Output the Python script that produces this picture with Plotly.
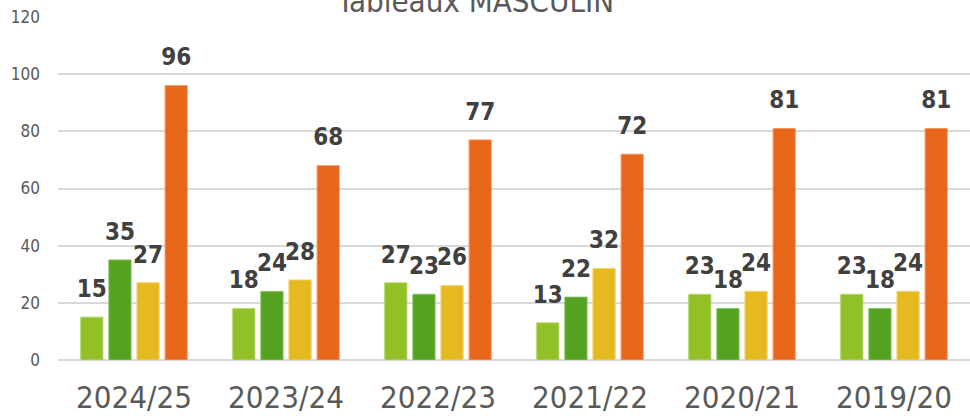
import plotly.graph_objects as go

categories = ["2024/25", "2023/24", "2022/23", "2021/22", "2020/21", "2019/20"]
serie_1 = [15, 18, 27, 13, 23, 23]
serie_2 = [35, 24, 23, 22, 18, 18]
serie_3 = [27, 28, 26, 32, 24, 24]
serie_4 = [96, 68, 77, 72, 81, 81]
y_ticks = [0, 20, 40, 60, 80, 100, 120]
title_text = "Tableaux MASCULIN"

series = [serie_1, serie_2, serie_3, serie_4]
colors = ["#92C127", "#55A122", "#E5B91F", "#E8661A"]
edges = ["#B5D86A", "#86C25E", "#F0D26A", "#F09A66"]

FONT = "DejaVu Sans Condensed, DejaVu Sans, sans-serif"


def label(v):
    # number in large bold type; a small empty second line lifts it above the bar
    return "<span style='font-size:24px'><b>%d</b></span><br> " % v


fig = go.Figure()
for vals, c, e in zip(series, colors, edges):
    fig.add_trace(go.Bar(
        x=categories, y=vals,
        marker=dict(color=c, line=dict(color=e, width=1)),
        text=[label(v) for v in vals],
        textposition="outside",
        textfont=dict(family=FONT, size=11, color="#404040"),
        constraintext="none",
        cliponaxis=False,
        showlegend=False,
        hoverinfo="x+y",
    ))

fig.update_layout(
    width=970, height=416,
    margin=dict(l=58, r=0, t=17, b=56),
    barmode="group",
    bargap=0.26,
    bargroupgap=0.21,
    plot_bgcolor="white",
    paper_bgcolor="white",
    font=dict(family=FONT, color="#595959"),
    annotations=[dict(
        text=title_text, xref="paper", yref="paper", x=0.457, y=1.0,
        xanchor="center", yanchor="bottom", showarrow=False, yshift=-4,
        font=dict(family=FONT, size=31, color="#595959"),
    )],
)
fig.update_yaxes(
    range=[0, 120], tickvals=y_ticks, showgrid=True, gridcolor="#D9D9D9",
    gridwidth=1.5, zeroline=True, zerolinecolor="#D9D9D9", zerolinewidth=1.5,
    showline=False, ticks="", ticklabelstandoff=17, automargin=False,
    tickfont=dict(family=FONT, size=17, color="#595959"),
)
fig.update_xaxes(
    showline=False, ticks="", ticklabelstandoff=16, automargin=False,
    tickfont=dict(family=FONT, size=31, color="#595959"),
)

fig.write_html(
    "out.html",
    config={"displayModeBar": False},
    post_script="document.body.style.margin='0';document.body.style.overflow='hidden';",
)
